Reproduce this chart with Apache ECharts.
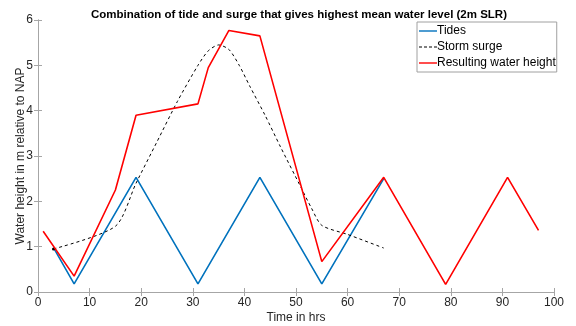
<!DOCTYPE html>
<html>
<head>
<meta charset="utf-8">
<script src="https://cdn.jsdelivr.net/npm/echarts@6/dist/echarts.min.js"></script>
<style>
  html, body { margin: 0; padding: 0; background: #fff; }
  #chart { width: 576px; height: 326px; }
</style>
</head>
<body>
<div id="chart"></div>
<script>
// Tidal signal (hours, m NAP)
const tideHours  = [3, 7, 19, 31, 43, 55, 67];
const tideLevels = [0.98, 0.18, 2.53, 0.18, 2.53, 0.18, 2.5];

// Storm surge profile
const surgeHours  = [3, 15, 19, 23, 27, 31, 33, 35, 37, 39, 41, 44, 47, 51, 53, 55, 60, 67];
const surgeLevels = [0.95, 1.45, 2.4, 3.3, 4.2, 5.0, 5.32, 5.45, 5.35, 5.0, 4.55, 3.9, 3.2, 2.3, 1.85, 1.47, 1.27, 0.97];

// Combined water height
const waterHours  = [1, 7, 15, 19, 31, 33, 37, 43, 55, 67, 79, 91, 97];
const waterLevels = [1.34, 0.35, 2.25, 3.9, 4.15, 4.95, 5.77, 5.65, 0.67, 2.53, 0.17, 2.53, 1.36];

const xTicks = { min: 0, max: 100, step: 10 };
const yTicks = { min: 0, max: 6, step: 1 };

const pair = (xs, ys) => xs.map((x, i) => [x, ys[i]]);

const surgeData = pair(surgeHours, surgeLevels).map((p, i) =>
  i === 0 ? { value: p, symbol: 'circle', symbolSize: 3 } : { value: p });

const font = 'Liberation Sans, Arial, Helvetica, sans-serif';
const boxColor = '#a6a6a6';

// legend glyphs: solid bar and dashed bar
const solidIcon = 'path://M0,5 L18,5 L18,6.4 L0,6.4 Z';
const dashedIcon = 'path://M0,5 L3,5 L3,6 L0,6 Z M5,5 L8,5 L8,6 L5,6 Z M10,5 L13,5 L13,6 L10,6 Z M15,5 L18,5 L18,6 L15,6 Z';

const axisBase = {
  type: 'value',
  axisLine: { show: true, lineStyle: { color: boxColor, width: 1 } },
  axisTick: { show: true, inside: true, length: 4, lineStyle: { color: boxColor } },
  splitLine: { show: false },
  axisLabel: { color: '#262626', fontFamily: font, fontSize: 12 }
};

const chart = echarts.init(document.getElementById('chart'), null, { renderer: 'canvas' });
chart.setOption({
  animation: false,
  backgroundColor: '#fff',
  title: {
    text: 'Combination of tide and surge that gives highest mean water level (2m SLR)',
    left: 294, top: 4, textAlign: 'center',
    textStyle: { fontFamily: font, fontSize: 11.5, fontWeight: 'bold', color: '#000' }
  },
  grid: { left: 38, right: 22, top: 20, bottom: 34, outerBoundsMode: 'none', containLabel: false },
  legend: {
    orient: 'vertical', left: 417, top: 22,
    backgroundColor: '#fff', borderColor: '#a0a0a0', borderWidth: 1, borderRadius: 0,
    padding: [3, 1, 3, 2], itemGap: 4, itemWidth: 18, itemHeight: 11,
    textStyle: { fontFamily: font, fontSize: 12, color: '#000', padding: [0, 0, 0, -5] },
    data: [
      { name: 'Tides', icon: solidIcon },
      { name: 'Storm surge', icon: dashedIcon },
      { name: 'Resulting water height', icon: solidIcon }
    ]
  },
  xAxis: [
    Object.assign({}, axisBase, {
      min: xTicks.min, max: xTicks.max, interval: xTicks.step, position: 'bottom',
      name: 'Time in hrs', nameLocation: 'middle', nameGap: 20, nameMoveOverlap: false,
      nameTextStyle: { fontFamily: font, fontSize: 12, color: '#262626' },
      axisLabel: Object.assign({}, axisBase.axisLabel, { margin: 5 })
    }),
    Object.assign({}, axisBase, {
      min: xTicks.min, max: xTicks.max, interval: xTicks.step, position: 'top',
      axisLabel: { show: false }
    })
  ],
  yAxis: [
    Object.assign({}, axisBase, {
      min: yTicks.min, max: yTicks.max, interval: yTicks.step, position: 'left',
      name: 'Water height in m relative to NAP', nameLocation: 'middle', nameGap: 11, nameMoveOverlap: false,
      nameTextStyle: { fontFamily: font, fontSize: 12, color: '#262626' },
      axisLabel: Object.assign({}, axisBase.axisLabel, { margin: 5 })
    }),
    Object.assign({}, axisBase, {
      min: yTicks.min, max: yTicks.max, interval: yTicks.step, position: 'right',
      axisLabel: { show: false }
    })
  ],
  series: [
    {
      name: 'Tides', type: 'line', data: pair(tideHours, tideLevels),
      symbol: 'none', color: '#0072BD',
      lineStyle: { color: '#0072BD', width: 1.6 }, z: 2
    },
    {
      name: 'Storm surge', type: 'line', data: surgeData, smooth: 0.25,
      symbol: 'none', color: '#000',
      itemStyle: { color: '#000' },
      lineStyle: { color: '#000', width: 1, type: [3, 3] }, z: 3
    },
    {
      name: 'Resulting water height', type: 'line', data: pair(waterHours, waterLevels),
      symbol: 'none', color: '#FF0000',
      lineStyle: { color: '#FF0000', width: 1.6 }, z: 4
    }
  ]
});
</script>
</body>
</html>
